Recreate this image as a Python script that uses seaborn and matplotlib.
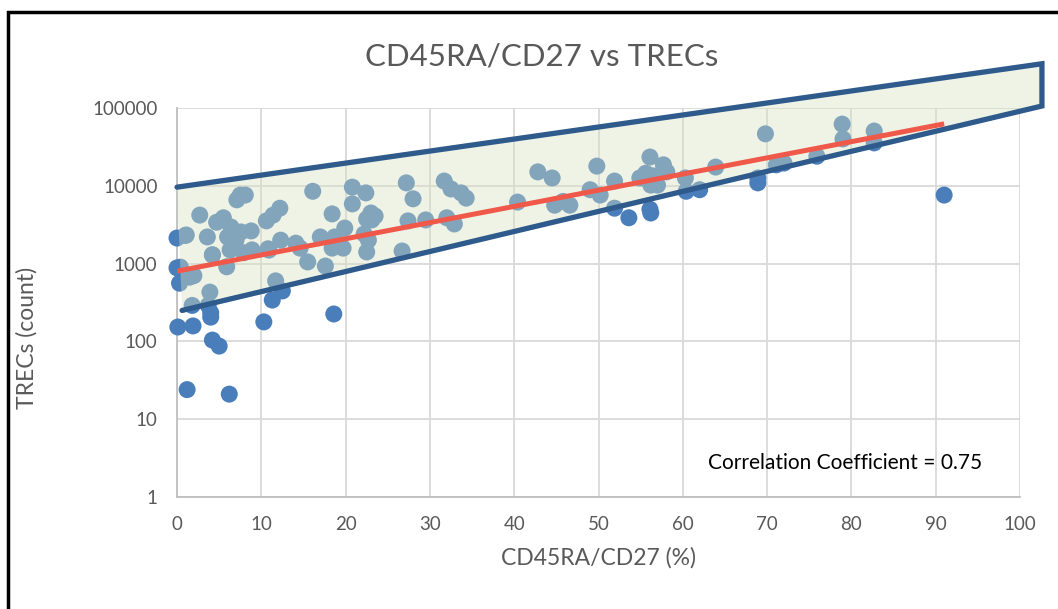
import numpy as np
import pandas as pd
import matplotlib
matplotlib.use("Agg")
import matplotlib.pyplot as plt
from matplotlib.patches import Polygon, Rectangle
import seaborn as sns

# CD45RA/CD27 percentage and TREC counts
cd45ra_pct = [
    0.0, 0.0, 0.3, 0.1, 1.1, 1.2, 1.5, 1.8, 1.9, 2.7,
    3.6, 3.7, 3.9, 4.0, 4.0, 4.2, 4.2, 5.0, 4.7, 5.5,
    6.2, 6.0, 5.9, 6.4, 6.6, 7.1, 7.5, 8.1, 7.6, 7.9,
    7.0, 8.8, 10.3, 10.6, 11.4, 10.9, 11.7, 11.3, 12.2, 12.3,
    12.5, 14.1, 14.6, 15.5, 16.1, 17.0, 17.6, 18.4, 18.4, 18.6,
    18.7, 19.3, 19.7, 19.9, 20.8, 20.8, 22.4, 22.5, 22.5, 22.7,
    23.0, 23.1, 23.5, 22.2, 26.7, 27.2, 27.4, 28.0, 29.5, 31.7,
    32.0, 32.5, 32.9, 33.7, 34.3, 40.4, 42.8, 44.5, 44.8, 45.8,
    46.6, 49.0, 49.8, 50.2, 51.9, 51.9, 53.6, 54.9, 55.6, 56.1,
    56.2, 56.5, 56.1, 56.2, 57.7, 58.1, 57.0, 60.3, 60.4, 62.0,
    63.9, 68.9, 68.9, 69.8, 71.1, 72.0, 75.9, 78.9, 79.0, 82.7,
    82.7, 91.0, 1.0, 4.2, 6.3, 6.7, 8.9, 10.8, 0.4, 2.0,
]
trecs_count = [
    2130, 880, 560, 153, 2330, 24, 670, 290, 158, 4200,
    2200, 290, 430, 233, 205, 1290, 104, 87, 3400, 3880,
    21, 2200, 910, 2950, 1700, 6600, 7600, 7600, 2550, 1380,
    2000, 2630, 178, 3540, 4200, 1490, 600, 340, 5150, 2000,
    445, 1830, 1580, 1050, 8500, 2200, 930, 4350, 1580, 225,
    2200, 1780, 1580, 2860, 9600, 5850, 8100, 3740, 1410, 2000,
    4470, 3640, 4080, 2400, 1450, 10900, 3540, 6800, 3640, 11500,
    3880, 9100, 3230, 8100, 6940, 6170, 15100, 12600, 5630, 6300,
    5630, 8900, 17900, 7600, 11500, 5150, 3880, 12600, 14500, 23400,
    10200, 13400, 5000, 4470, 18600, 15100, 10200, 12600, 8500, 8900,
    17400, 12600, 10900, 46500, 18600, 19600, 24000, 62000, 40000, 50500,
    35600, 7600, 2300, 1300, 1500, 2600, 1500, 1550, 900, 700,
]

# exponential trendline (as shown in the chart)
trend_intercept = 800
trend_log_slope = 0.0208
correlation = 0.75

# "normal range" band drawn over the points
band_x = [0.0, 102.6]
band_upper = [9600, 370000]
band_lower_x = [0.6, 102.6]
band_lower = [250, 106000]

df = pd.DataFrame({"cd45ra": cd45ra_pct, "trecs": trecs_count})

sns.set_theme(style="white")
plt.rcParams["font.family"] = ["Lato", "DejaVu Sans"]
text_col = "#595959"

fig = plt.figure(figsize=(10.58, 6.09), dpi=100)
ax = fig.add_axes([0.1673, 0.1839, 0.7968, 0.6388])

sns.scatterplot(data=df, x="cd45ra", y="trecs", ax=ax, color="#4a7ebb",
                s=150, edgecolor="none", zorder=3, legend=False, clip_on=False)

ax.set_yscale("log")
ax.set_xlim(0, 100)
ax.set_ylim(1, 100000)

# band: translucent fill on top of points, edges drawn open on the left
poly = Polygon([(band_x[0], band_upper[0]), (band_x[1], band_upper[1]),
                (band_lower_x[1], band_lower[1]), (band_lower_x[0], band_lower[0])],
               closed=True, facecolor="#d7e1be", alpha=0.4, edgecolor="none",
               zorder=4, clip_on=False)
ax.add_patch(poly)
ax.plot([band_x[0], band_x[1], band_lower_x[1], band_lower_x[0]],
        [band_upper[0], band_upper[1], band_lower[1], band_lower[0]],
        color="#2f5a8c", lw=3.8, zorder=5, clip_on=False, solid_joinstyle="miter")

# trendline
tx = np.linspace(df["cd45ra"].min(), df["cd45ra"].max(), 100)
ax.plot(tx, trend_intercept * 10 ** (trend_log_slope * tx), color="#f0584a",
        lw=3.6, zorder=6, solid_capstyle="butt")

ax.set_xticks(range(0, 101, 10))
ax.set_yticks([1, 10, 100, 1000, 10000, 100000])
ax.set_yticklabels(["1", "10", "100", "1000", "10000", "100000"])
ax.minorticks_off()
ax.grid(True, color="#d9d9d9", lw=1.3)
ax.set_axisbelow(True)
for side in ["top", "right"]:
    ax.spines[side].set_visible(False)
for side in ["left", "bottom"]:
    ax.spines[side].set_color("#bfbfbf")
    ax.spines[side].set_linewidth(1.3)
ax.tick_params(axis="both", length=0, labelsize=13.5, colors=text_col)
ax.tick_params(axis="x", pad=14)
ax.tick_params(axis="y", pad=14)

ax.set_xlabel("CD45RA/CD27 (%)", fontsize=16.5, color=text_col, labelpad=10)
ax.set_ylabel("TRECs (count)", fontsize=16.5, color=text_col)
ax.yaxis.set_label_coords(-0.165, 0.41)
fig.text(0.512, 0.908, "CD45RA/CD27 vs TRECs", ha="center", va="center",
         fontsize=22.5, color=text_col)
ax.text(0.63, 0.087, f"Correlation Coefficient = {correlation}",
        transform=ax.transAxes, fontsize=15, color="black", va="center", zorder=7)

# outer black frame (cut off at right and bottom in the original)
fig.add_artist(Rectangle((0.0075, -0.2), 1.5, 1.2 - 12.5 / 609, transform=fig.transFigure,
                         fill=False, edgecolor="black", lw=2.5))

fig.savefig("out.png", dpi=100)
